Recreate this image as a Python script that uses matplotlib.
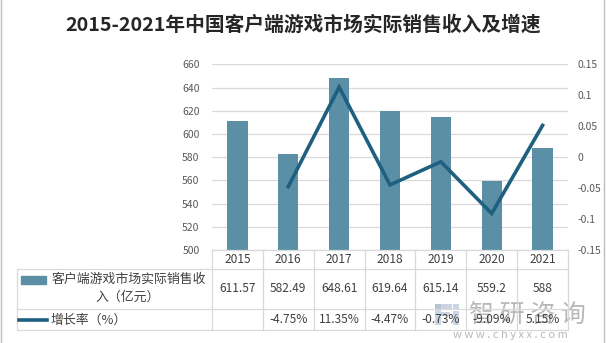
import matplotlib
matplotlib.use("Agg")
import matplotlib.pyplot as plt
import matplotlib.transforms as mtransforms
from matplotlib.lines import Line2D
from matplotlib.patches import Rectangle
import numpy as np

plt.rcParams['font.family'] = ['Noto Sans CJK SC', 'DejaVu Sans']

# Data
years = ["2015", "2016", "2017", "2018", "2019", "2020", "2021"]
revenue = [611.57, 582.49, 648.61, 619.64, 615.14, 559.2, 588]
growth_pct = [None, -4.75, 11.35, -4.47, -0.73, -9.09, 5.15]
left_ticks = [500, 520, 540, 560, 580, 600, 620, 640, 660]
right_ticks = [-0.15, -0.1, -0.05, 0, 0.05, 0.1, 0.15]
right_tick_labels = ["-0.15", "-0.1", "-0.05", "0", "0.05", "0.1", "0.15"]
title = "2015-2021年中国客户端游戏市场实际销售收入及增速"
bar_label = ["客户端游戏市场实际销售收", "入（亿元）"]
line_label = "增长率（%）"

BAR_C = "#5B8FA6"
LINE_C = "#1F5F80"
GRID_C = "#D9D9D9"
TEXT_C = "#404040"
TICK_C = "#595959"

W, H = 606, 343
fig = plt.figure(figsize=(W / 100, H / 100), dpi=100)
fig.patch.set_facecolor("white")


def fx(px):
    return px / W


def fy(py):
    return 1 - py / H


x0, x1, ytop, ybot = 212, 568, 64.5, 250
ax = fig.add_axes([fx(x0), fy(ybot), (x1 - x0) / W, (ybot - ytop) / H])
ax2 = ax.twinx()

x = np.arange(len(years))
ax.bar(x, revenue, width=0.4, color=BAR_C, zorder=2)
ax.set_xlim(-0.5, len(years) - 0.5)
ax.set_ylim(500, 660)
ax.set_yticks(left_ticks)
ax.set_yticklabels([str(t) for t in left_ticks])
ax.set_xticks([])
ax.yaxis.grid(True, color=GRID_C, lw=0.9, zorder=0)
ax.set_axisbelow(True)
ax.tick_params(axis="y", length=0, pad=9, labelsize=7.5, labelcolor=TICK_C)

gx = [xi for xi, g in zip(x, growth_pct) if g is not None]
gy = [g / 100 for g in growth_pct if g is not None]
ax2.plot(gx, gy, color=LINE_C, lw=2.6, solid_joinstyle="miter", zorder=3)
ax2.set_ylim(-0.15, 0.15)
ax2.set_yticks(right_ticks)
ax2.set_yticklabels(right_tick_labels)
ax2.tick_params(axis="y", length=0, pad=7, labelsize=7.5, labelcolor=TICK_C)

for a in (ax, ax2):
    for s in a.spines.values():
        s.set_visible(False)

# Data table under the plot
trans = mtransforms.blended_transform_factory(ax.transData, fig.transFigure)
row_top, row1, row2, row_bot = 250, 268.7, 309, 330
left_edge = 16.7


def hline(py, xa_px, xb_px):
    fig.add_artist(Line2D([fx(xa_px), fx(xb_px)], [fy(py), fy(py)],
                          transform=fig.transFigure, color=GRID_C, lw=0.9))


hline(row_top, x0, x1)
hline(row1, left_edge, x1)
hline(row2, left_edge, x1)
hline(row_bot, left_edge, x1)
fig.add_artist(Line2D([fx(left_edge)] * 2, [fy(row1), fy(row_bot)],
                      transform=fig.transFigure, color=GRID_C, lw=0.9))
for b in np.arange(-0.5, len(years), 1.0):
    fig.add_artist(Line2D([b, b], [fy(row_top), fy(row_bot)],
                          transform=trans, color=GRID_C, lw=0.9))

for xi, yr, rv, g in zip(x, years, revenue, growth_pct):
    fig.text(xi, fy((row_top + row1) / 2), yr, transform=trans,
             ha="center", va="center", fontsize=8.6, color=TEXT_C)
    fig.text(xi, fy((row1 + row2) / 2), f"{rv:g}", transform=trans,
             ha="center", va="center", fontsize=8.6, color=TEXT_C)
    if g is not None:
        fig.text(xi, fy((row2 + row_bot) / 2), f"{g:.2f}%", transform=trans,
                 ha="center", va="center", fontsize=8.6, color=TEXT_C,
                 zorder=5)

# Legend keys in the first column
fig.add_artist(Rectangle((fx(21), fy(284)), (46 - 21) / W, 8 / H,
                         transform=fig.transFigure, color=BAR_C))
fig.add_artist(Line2D([fx(19), fx(47)], [fy(320), fy(320)],
                      transform=fig.transFigure, color=LINE_C, lw=2.6))
fig.text(fx(128.5), fy(279.5), bar_label[0], ha="center", va="center",
         fontsize=9.3, color=TEXT_C)
fig.text(fx(127.5), fy(297.5), bar_label[1], ha="center", va="center",
         fontsize=9.3, color=TEXT_C)
fig.text(fx(50.5), fy(320), line_label, ha="left", va="center",
         fontsize=9.3, color=TEXT_C)

# Title
fig.text(fx(303), fy(25), title, ha="center", va="center",
         fontsize=14.2, fontweight="bold", color="#262626")

# Side frame lines
for px in (0.6, 604):
    fig.add_artist(Line2D([fx(px)] * 2, [0, 1], transform=fig.transFigure,
                          color="#BFBFBF", lw=1.0))

# Watermark
wm_c = "#A8B8D0"
for (rx, ry, rw, rh) in [(435, 304, 17, 5), (435, 304, 6, 21),
                         (441, 312, 9, 4), (453, 304, 6, 5), (453, 311, 6, 14)]:
    fig.add_artist(Rectangle((fx(rx), fy(ry + rh)), rw / W, rh / H,
                             transform=fig.transFigure, color=wm_c,
                             alpha=0.6, lw=0))
fig.text(fx(527.5), fy(314.5), "智 研 咨 询", ha="center", va="center",
         fontsize=18, color="#9A9A9A", alpha=0.7, zorder=1)
fig.text(fx(510), fy(335.5), "w w w . c h y x x . c o m", ha="center",
         va="center", fontsize=8, color="#9A9A9A", alpha=0.7, zorder=1)

fig.savefig("out.png", dpi=100, facecolor="white")
